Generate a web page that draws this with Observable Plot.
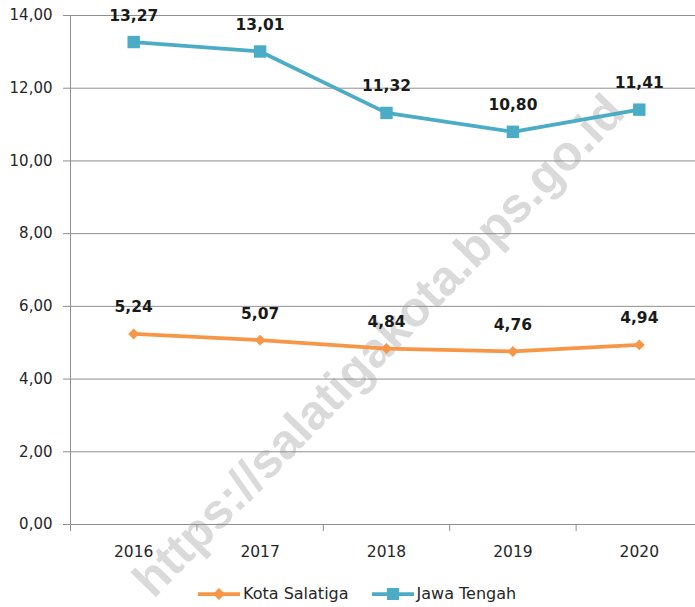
<!DOCTYPE html>
<html>
<head>
<meta charset="utf-8">
<script src="https://cdn.jsdelivr.net/npm/d3@7"></script>
<script src="https://cdn.jsdelivr.net/npm/@observablehq/plot@0.6"></script>
<style>
  html, body { margin: 0; padding: 0; background: #fff; }
  #wrap { position: relative; width: 695px; height: 607px; overflow: hidden; font-family: "DejaVu Sans", sans-serif; }
  #wm { position: absolute; left: 378px; top: 345px; transform: translate(-50%, -50%) rotate(-45.7deg);
        font-family: "Liberation Sans", Arial, sans-serif; font-weight: bold; font-size: 49px; color: #dadada;
        white-space: nowrap; z-index: 0; }
  #chart { position: absolute; left: 0; top: 0; z-index: 1; }
  #legend { position: absolute; left: 198px; top: 580px; height: 27px; display: flex; align-items: center; z-index: 1;
            font-size: 16px; color: #262626; }
  .item { display: flex; align-items: center; }
  .item svg { display: block; margin-right: 3px; }
</style>
</head>
<body>
<div id="wrap">
  <div id="wm">https://salatigakota.bps.go.id</div>
  <div id="chart"></div>
  <div id="legend"></div>
</div>
<script>
const years = [2016, 2017, 2018, 2019, 2020];
const kotaSalatiga = [5.24, 5.07, 4.84, 4.76, 4.94];
const jawaTengah = [13.27, 13.01, 11.32, 10.80, 11.41];
const yTicks = [0, 2, 4, 6, 8, 10, 12, 14];
const seriesNames = ["Kota Salatiga", "Jawa Tengah"];
const seriesColors = ["#F79646", "#4BACC6"];

const data = years.flatMap((yr, i) => [
  {year: yr, value: kotaSalatiga[i], series: seriesNames[0]},
  {year: yr, value: jawaTengah[i], series: seriesNames[1]}
]);
const fmt = v => v.toFixed(2).replace(".", ",");
const boundaries = years.map(y => y - 0.5);
const gridColor = "#8f8f8f";

const chart = Plot.plot({
  width: 695,
  height: 570,
  marginTop: 15,
  marginBottom: 46,
  marginLeft: 70,
  marginRight: 0,
  style: {fontFamily: "DejaVu Sans, sans-serif", fontSize: "15px", color: "#262626", background: "transparent", overflow: "visible"},
  x: {domain: [years[0] - 0.5, years[years.length - 1] + 0.5], range: [70, 702]},
  y: {domain: [yTicks[0], yTicks[yTicks.length - 1]]},
  color: {domain: seriesNames, range: seriesColors},
  marks: [
    Plot.ruleY(yTicks, {stroke: gridColor, strokeWidth: 1}),
    Plot.ruleX([boundaries[0]], {stroke: gridColor, strokeWidth: 1}),
    Plot.axisY(yTicks, {tickSize: 7, tickPadding: 11, tickFormat: fmt, stroke: gridColor, fill: "#262626", fontSize: 15, label: null}),
    Plot.axisX(boundaries, {tickSize: 7, tickFormat: () => "", stroke: gridColor, label: null}),
    Plot.axisX(years, {tickSize: 0, tickPadding: 21, tickFormat: d => String(d), fill: "#262626", fontSize: 15.5, label: null}),
    Plot.line(data, {x: "year", y: "value", stroke: "series", z: "series", strokeWidth: 3.75}),
    Plot.dot(data.filter(d => d.series === seriesNames[0]), {x: "year", y: "value", fill: "series", symbol: "diamond2", r: 4.9, stroke: null}),
    Plot.dot(data.filter(d => d.series === seriesNames[1]), {x: "year", y: "value", fill: "series", symbol: "square", r: 7, stroke: null}),
    Plot.text(data, {x: "year", y: "value", text: d => fmt(d.value), dy: -26.5, fontWeight: "bold", fontSize: 15.5, fill: "#1a1a1a"})
  ]
});
document.getElementById("chart").appendChild(chart);

// legend
const legend = d3.select("#legend");
seriesNames.forEach((name, i) => {
  const item = legend.append("div").attr("class", "item").style("margin-right", i === 0 ? "23px" : "0");
  const svg = item.append("svg").attr("width", 42).attr("height", 14);
  svg.append("line").attr("x1", 0).attr("x2", 42).attr("y1", 7).attr("y2", 7)
     .attr("stroke", seriesColors[i]).attr("stroke-width", 3.75);
  if (i === 0) {
    svg.append("path").attr("d", "M21,1 L27,7 L21,13 L15,7 Z").attr("fill", seriesColors[i]);
  } else {
    svg.append("rect").attr("x", 15).attr("y", 1).attr("width", 12).attr("height", 12).attr("fill", seriesColors[i]);
  }
  item.append("span").text(name);
});
</script>
</body>
</html>
